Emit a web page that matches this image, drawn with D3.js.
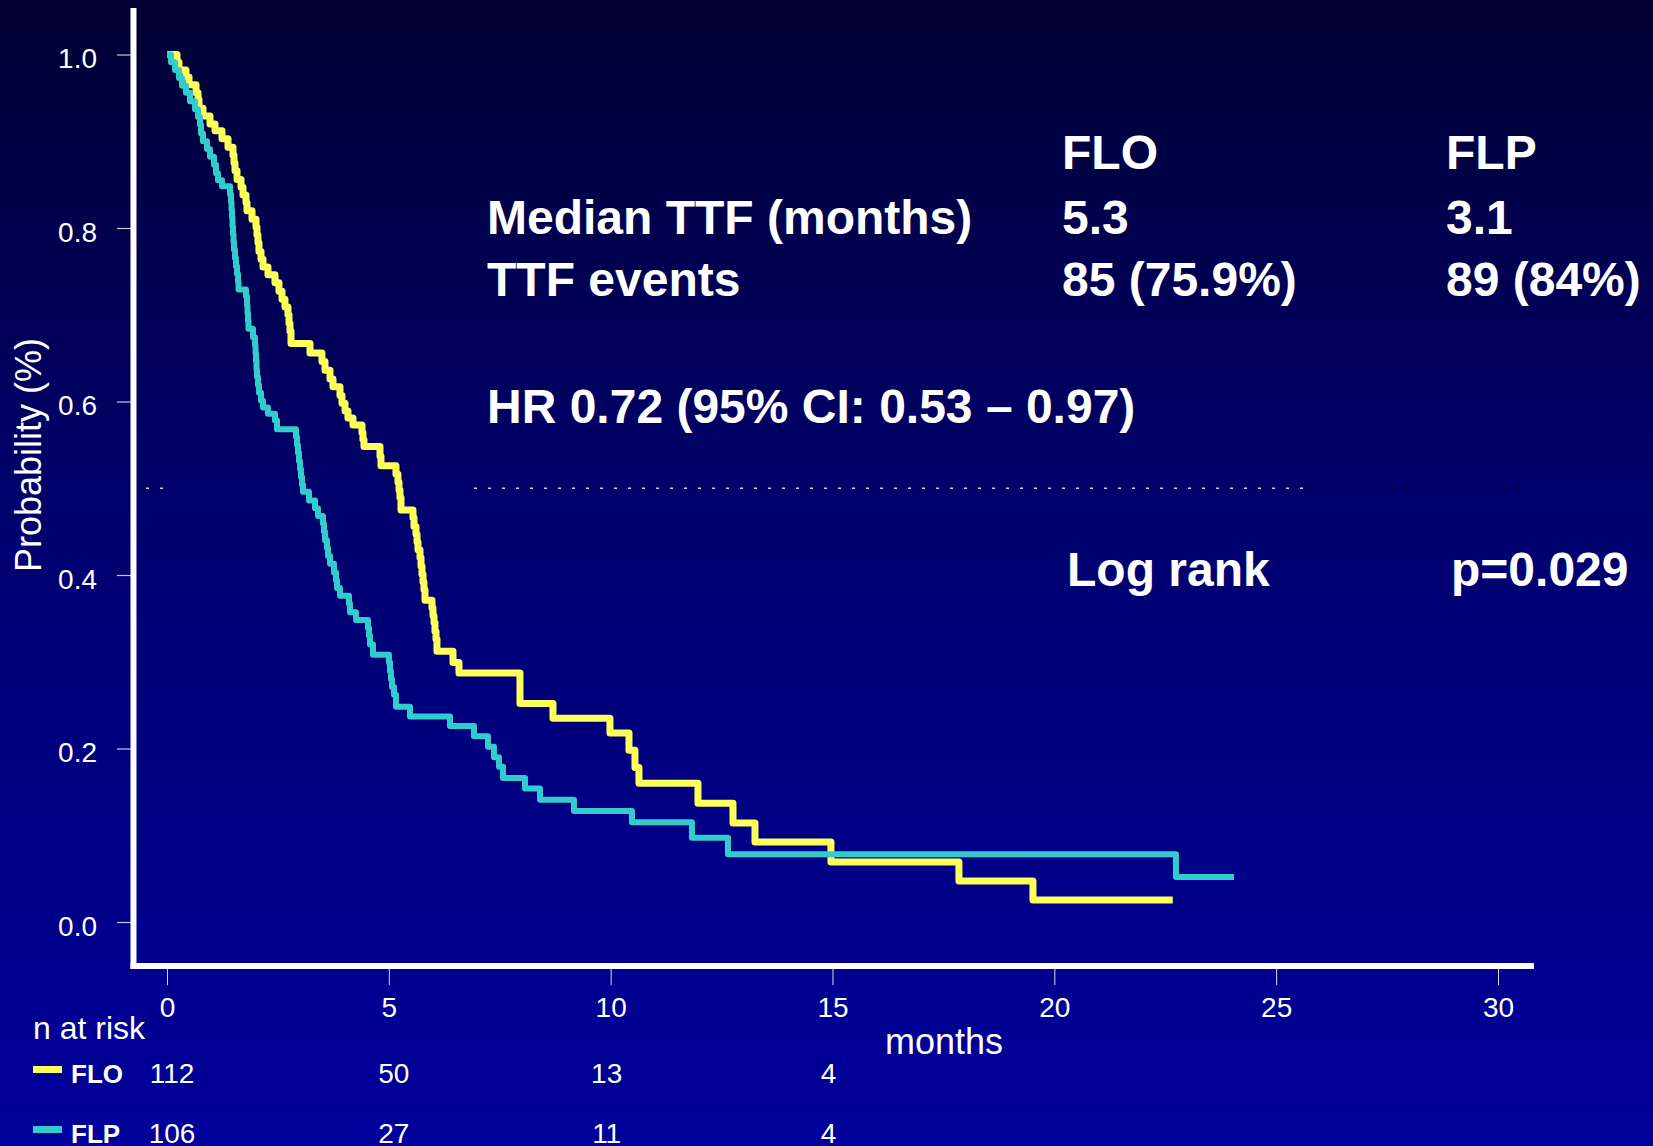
<!DOCTYPE html>
<html>
<head>
<meta charset="utf-8">
<script src="https://cdn.jsdelivr.net/npm/d3@7"></script>
<style>
  html, body { margin: 0; padding: 0; background: #000066; }
  svg { display: block; }
  text { font-family: "Liberation Sans", Arial, Helvetica, sans-serif; fill: #ffffff; }
</style>
</head>
<body>
<svg id="chart" width="1653" height="1146"></svg>
<script>
// ---------- data ----------
const monthTicks = [0, 5, 10, 15, 20, 25, 30];
const probTicks = [0, 0.2, 0.4, 0.6, 0.8, 1.0];

// FLO (yellow): time of each drop (months) and survival after it
const floTimes = [0.225,0.27,0.428,0.496,0.654,0.699,0.721,0.811,0.969,1.082,1.240,1.375,1.487,1.510,1.533,1.578,1.668,1.713,1.781,1.803,1.916,2.006,2.028,2.051,2.073,2.119,2.164,2.276,2.434,2.524,2.592,2.659,2.727,2.750,2.772,2.795,3.223,3.493,3.561,3.674,3.741,3.899,3.944,4.012,4.079,4.192,4.395,4.417,4.440,4.801,4.823,5.161,5.206,5.229,5.251,5.274,5.544,5.567,5.612,5.635,5.657,5.702,5.725,5.747,5.770,5.792,5.815,5.973,5.995,6.018,6.040,6.063,6.085,6.446,6.581,7.956,8.700,9.984,10.413,10.548,10.638,11.968,12.757,13.253,14.965,17.850,19.518];
const floSurv  = [0.991,0.982,0.974,0.965,0.956,0.948,0.938,0.929,0.920,0.912,0.903,0.893,0.884,0.875,0.866,0.856,0.847,0.838,0.829,0.820,0.810,0.801,0.792,0.783,0.773,0.764,0.755,0.746,0.737,0.727,0.718,0.709,0.700,0.690,0.681,0.667,0.656,0.646,0.636,0.626,0.617,0.607,0.598,0.589,0.581,0.573,0.564,0.556,0.548,0.537,0.526,0.516,0.507,0.498,0.489,0.475,0.466,0.456,0.447,0.438,0.429,0.420,0.410,0.401,0.392,0.383,0.371,0.362,0.353,0.345,0.335,0.326,0.312,0.299,0.287,0.252,0.235,0.218,0.198,0.178,0.160,0.137,0.114,0.0922,0.0692,0.0473,0.0254];
const floEnd = 22.67;

// FLP (cyan)
const flpTimes = [0.090,0.180,0.270,0.338,0.428,0.518,0.631,0.699,0.744,0.766,0.811,0.902,0.969,1.059,1.104,1.149,1.240,1.420,1.442,1.454,1.465,1.476,1.487,1.499,1.510,1.533,1.555,1.578,1.600,1.612,1.781,1.803,1.814,1.826,1.837,1.938,1.983,1.995,2.006,2.017,2.028,2.051,2.073,2.119,2.164,2.276,2.434,2.479,2.907,2.930,2.952,2.975,2.998,3.020,3.043,3.065,3.200,3.336,3.403,3.516,3.538,3.561,3.606,3.629,3.674,3.764,3.809,3.831,3.899,4.102,4.124,4.260,4.530,4.553,4.575,4.643,5.003,5.026,5.048,5.071,5.116,5.161,5.477,6.378,6.919,7.235,7.370,7.483,7.573,8.069,8.407,9.173,10.480,11.832,12.644,22.741];
const flpSurv  = [0.991,0.982,0.973,0.964,0.956,0.946,0.937,0.928,0.919,0.909,0.900,0.891,0.882,0.873,0.863,0.855,0.848,0.839,0.830,0.821,0.812,0.802,0.793,0.784,0.775,0.765,0.756,0.747,0.738,0.729,0.721,0.711,0.702,0.693,0.684,0.674,0.665,0.656,0.647,0.637,0.628,0.619,0.610,0.601,0.593,0.586,0.578,0.568,0.559,0.550,0.541,0.531,0.522,0.513,0.504,0.496,0.486,0.477,0.468,0.459,0.450,0.440,0.431,0.422,0.413,0.403,0.394,0.385,0.376,0.367,0.357,0.348,0.339,0.330,0.320,0.308,0.299,0.289,0.280,0.271,0.262,0.248,0.237,0.226,0.214,0.202,0.190,0.179,0.166,0.154,0.141,0.128,0.115,0.097,0.078,0.052];
const flpEnd = 24.05;

const riskTimes = [0, 5, 10, 15];
const floRisk = [112, 50, 13, 4];
const flpRisk = [106, 27, 11, 4];

const statCols = ["FLO", "FLP"];
const medianTTF = ["5.3", "3.1"];
const ttfEvents = ["85 (75.9%)", "89 (84%)"];

// ---------- drawing ----------
const svg = d3.select("#chart");
const W = 1653, H = 1146;

const defs = svg.append("defs");
const grad = defs.append("linearGradient").attr("id", "bg")
  .attr("x1", 0).attr("y1", 0).attr("x2", 0).attr("y2", 1);
grad.append("stop").attr("offset", "0%").attr("stop-color", "#000033");
grad.append("stop").attr("offset", "45%").attr("stop-color", "#00006e");
grad.append("stop").attr("offset", "100%").attr("stop-color", "#00009c");
svg.append("rect").attr("width", W).attr("height", H).attr("fill", "url(#bg)");

const x = d3.scaleLinear().domain([0, 30]).range([167, 1498]);
const y = d3.scaleLinear().domain([0, 1]).range([922, 54.5]);

// reference dotted line at 0.5
const refY = y(0.5);
svg.append("line").attr("x1", 132).attr("x2", x(0)).attr("y1", refY).attr("y2", refY)
  .attr("stroke", "#d0d0e8").attr("stroke-width", 1.5).attr("stroke-dasharray", "3,11");
svg.append("line").attr("x1", 474).attr("x2", 1307).attr("y1", refY).attr("y2", refY)
  .attr("stroke", "#d0d0e8").attr("stroke-width", 1.5).attr("stroke-dasharray", "3,11");
svg.append("line").attr("x1", 1307).attr("x2", 1523).attr("y1", refY).attr("y2", refY)
  .attr("stroke", "#000010").attr("stroke-width", 2).attr("stroke-dasharray", "3,11");

// axes ticks
const xAxis = d3.axisBottom(x).tickValues(monthTicks).tickSize(16).tickPadding(12).tickFormat(d3.format("d"));
const gx = svg.append("g").attr("transform", "translate(0,969)").call(xAxis);
gx.select(".domain").remove();
gx.selectAll(".tick line").attr("stroke", "#d8d8e8").attr("stroke-width", 1);
gx.selectAll(".tick text").attr("font-size", 28).attr("fill", "#fff")
  .style("font-family", "'Liberation Sans', Arial, sans-serif");

const yAxis = d3.axisLeft(y).tickValues(probTicks).tickSize(14).tickPadding(20).tickFormat(d3.format(".1f"));
const gy = svg.append("g").attr("transform", "translate(131,0)").call(yAxis);
gy.select(".domain").remove();
gy.selectAll(".tick line").attr("stroke", "#c8c8dc").attr("stroke-width", 1.2);
gy.selectAll(".tick text").attr("font-size", 28).attr("fill", "#fff").attr("dy", "0.47em")
  .style("font-family", "'Liberation Sans', Arial, sans-serif");

// thick white axis lines
svg.append("line").attr("x1", 133.5).attr("x2", 133.5).attr("y1", 8).attr("y2", 969)
  .attr("stroke", "#fff").attr("stroke-width", 6);
svg.append("line").attr("x1", 130.5).attr("x2", 1534).attr("y1", 966).attr("y2", 966)
  .attr("stroke", "#fff").attr("stroke-width", 6);

// KM curves
function kmPoints(times, surv, end) {
  const pts = [[0, 1]];
  times.forEach((t, i) => pts.push([t, surv[i]]));
  pts.push([end, surv[surv.length - 1]]);
  return pts;
}
const line = d3.line().x(d => x(d[0])).y(d => y(d[1])).curve(d3.curveStepAfter);

svg.append("path").datum(kmPoints(floTimes, floSurv, floEnd))
  .attr("d", line).attr("fill", "none").attr("stroke", "#ffff5c")
  .attr("stroke-width", 7).attr("stroke-linejoin", "round");
svg.append("path").datum(kmPoints(flpTimes, flpSurv, flpEnd))
  .attr("d", line).attr("fill", "none").attr("stroke", "#33cccc")
  .attr("stroke-width", 6).attr("stroke-linejoin", "round");

// axis titles
svg.append("text").attr("transform", "translate(41,455) rotate(-90)")
  .attr("text-anchor", "middle").attr("font-size", 36).text("Probability (%)");
svg.append("text").attr("x", 944).attr("y", 1054).attr("text-anchor", "middle")
  .attr("font-size", 36).text("months");

// statistics block
const bold = 48;
const colX = [1062, 1446];
statCols.forEach((c, i) => {
  svg.append("text").attr("x", colX[i]).attr("y", 169).attr("font-size", bold)
    .attr("font-weight", "bold").text(c);
  svg.append("text").attr("x", colX[i]).attr("y", 234).attr("font-size", bold)
    .attr("font-weight", "bold").text(medianTTF[i]);
  svg.append("text").attr("x", colX[i]).attr("y", 296).attr("font-size", bold)
    .attr("font-weight", "bold").text(ttfEvents[i]);
});
svg.append("text").attr("x", 487).attr("y", 234).attr("font-size", bold)
  .attr("font-weight", "bold").text("Median TTF (months)");
svg.append("text").attr("x", 487).attr("y", 296).attr("font-size", bold)
  .attr("font-weight", "bold").text("TTF events");
svg.append("text").attr("x", 487).attr("y", 423).attr("font-size", bold)
  .attr("font-weight", "bold").text("HR 0.72 (95% CI: 0.53 \u2013 0.97)");
svg.append("text").attr("x", 1067).attr("y", 586).attr("font-size", bold)
  .attr("font-weight", "bold").text("Log rank");
svg.append("text").attr("x", 1451).attr("y", 586).attr("font-size", bold)
  .attr("font-weight", "bold").text("p=0.029");

// number at risk
svg.append("text").attr("x", 33).attr("y", 1039).attr("font-size", 32).text("n at risk");
const rows = [
  { name: "FLO", color: "#ffff5c", vals: floRisk, yb: 1083 },
  { name: "FLP", color: "#33cccc", vals: flpRisk, yb: 1143 }
];
rows.forEach(r => {
  svg.append("rect").attr("x", 33).attr("y", r.yb - 17).attr("width", 29).attr("height", 7)
    .attr("fill", r.color);
  svg.append("text").attr("x", 71).attr("y", r.yb).attr("font-size", 26)
    .attr("font-weight", "bold").text(r.name);
  svg.selectAll(null).data(riskTimes).enter().append("text")
    .attr("x", (d) => x(d) + (d < 8 ? 5 : -4)).attr("y", r.yb).attr("text-anchor", "middle")
    .attr("font-size", 28).text((d, i) => r.vals[i]);
});
</script>
</body>
</html>
